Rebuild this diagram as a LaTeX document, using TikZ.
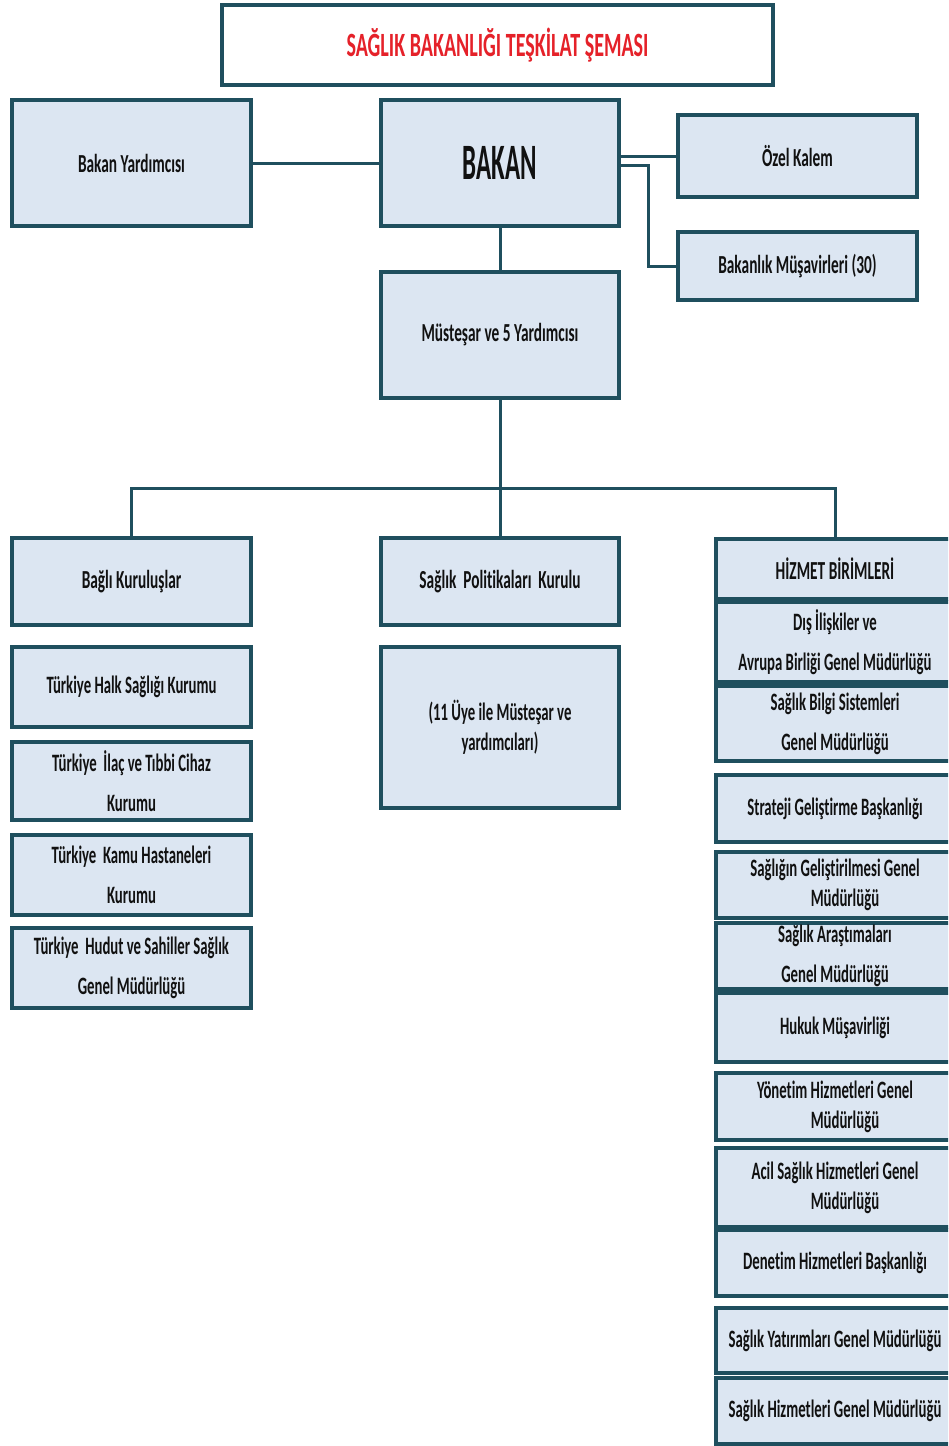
\documentclass[tikz,border=0pt]{standalone}
\usepackage{fontspec}
\setmainfont{Carlito}[FakeStretch=0.59,Ligatures=NoCommon]
\newfontfamily\bakanfont{Carlito}[FakeStretch=0.49]
\definecolor{bordc}{HTML}{1F4F5E}
\definecolor{fillc}{HTML}{DCE6F2}
\definecolor{txtc}{HTML}{111111}
\definecolor{titlec}{HTML}{E52129}
\tikzset{
  orgbox/.style={draw=bordc, fill=fillc, line width=3.5pt, inner sep=0pt, align=center,
    text=txtc, font=\bfseries\fontsize{25}{30}\selectfont},
  wide/.style={font=\bfseries\fontsize{25}{40}\selectfont},
  big/.style={font=\bfseries\fontsize{26}{30}\selectfont},
  conn/.style={draw=bordc, line width=3pt}
}
\newcommand\bx[7][]{\node[orgbox,#1,minimum width={#5-#3},minimum height={#6-#4}] (#2) at ({(#3+#5)/2},{(#4+#6)/2}) {#7};}
\begin{document}
\begin{tikzpicture}[x=1pt,y=-1pt]
\useasboundingbox (0,0) rectangle (948,1446);
\clip (0,0) rectangle (948,1446);
\fill[white] (0,0) rectangle (948,1446);
% title
\bx[fill=white,text=titlec,font=\bfseries\fontsize{34}{38}\selectfont]{title}{222}{5}{773}{85}{SAĞLIK BAKANLIĞI TEŞKİLAT ŞEMASI}
% top level
\bx[big]{by}{12}{100}{251}{226}{Bakan Yardımcısı}
\bx[font=\bakanfont\bfseries\fontsize{51}{55}\selectfont]{bakan}{381}{100}{619}{226}{BAKAN}
\bx[big]{ozel}{678}{115}{917}{197}{Özel Kalem}
\bx[big]{mus}{678}{232}{917}{300}{Bakanlık  Müşavirleri (30)}
\bx[big]{mst}{381}{272}{619}{398}{Müsteşar ve 5 Yardımcısı}
% left column
\bx[big]{bagli}{12}{538}{251}{625}{Bağlı  Kuruluşlar}
\bx{halk}{12}{647}{251}{727}{Türkiye Halk Sağlığı Kurumu}
\bx[wide]{ilac}{12}{742}{251}{820}{Türkiye\ \ İlaç ve Tıbbi Cihaz\\Kurumu}
\bx[wide]{kamu}{12}{835}{251}{915}{Türkiye\ \ Kamu Hastaneleri\\Kurumu}
\bx[wide]{hudut}{12}{928}{251}{1008}{Türkiye\ \ Hudut ve Sahiller Sağlık\\Genel Müdürlüğü}
% middle column
\bx[big]{spk}{381}{538}{619}{625}{Sağlık\ \ Politikaları\ \ Kurulu}
\bx{uye}{381}{647}{619}{808}{(11 Üye ile Müsteşar ve\\yardımcıları)}
% right column
\bx[big]{hiz}{716}{539}{954}{599}{HİZMET BİRİMLERİ}
\bx[wide]{dis}{716}{602}{954}{682}{Dış İlişkiler ve\\Avrupa Birliği Genel Müdürlüğü}
\bx[wide]{bilgi}{716}{686}{954}{761}{Sağlık Bilgi Sistemleri\\Genel Müdürlüğü}
\bx{strat}{716}{775}{954}{842}{Strateji Geliştirme Başkanlığı}
\bx{gel}{716}{852}{954}{918}{Sağlığın Geliştirilmesi Genel\\\hspace*{20pt}Müdürlüğü}
\bx[wide]{aras}{716}{923}{954}{989}{Sağlık Araştımaları\\Genel Müdürlüğü}
\bx{hukuk}{716}{993}{954}{1062}{Hukuk Müşavirliği}
\bx{yon}{716}{1073}{954}{1140}{Yönetim Hizmetleri Genel\\\hspace*{20pt}Müdürlüğü}
\bx{acil}{716}{1148}{954}{1227}{Acil Sağlık Hizmetleri Genel\\\hspace*{20pt}Müdürlüğü}
\bx{den}{716}{1230}{954}{1296}{Denetim Hizmetleri Başkanlığı}
\bx{yat}{716}{1308}{954}{1373}{Sağlık Yatırımları Genel Müdürlüğü}
\bx{hizm}{716}{1378}{954}{1444}{Sağlık Hizmetleri Genel Müdürlüğü}
% connectors
\coordinate (mb) at (648,165);
\coordinate (bus) at (500,488);
\draw[conn] (by.east) -- (bakan.west);
\draw[conn] (ozel.west) -- (ozel.west -| bakan.east);
\draw[conn] (bakan.east |- mb) -- (mb) |- (mus.west);
\draw[conn] (bakan.south) -- (mst.north);
\draw[conn] (mst.south) -- (bus);
\draw[conn] (bagli.north) |- (bus) -| (hiz.north);
\draw[conn] (bus) -- (spk.north);
\end{tikzpicture}
\end{document}
